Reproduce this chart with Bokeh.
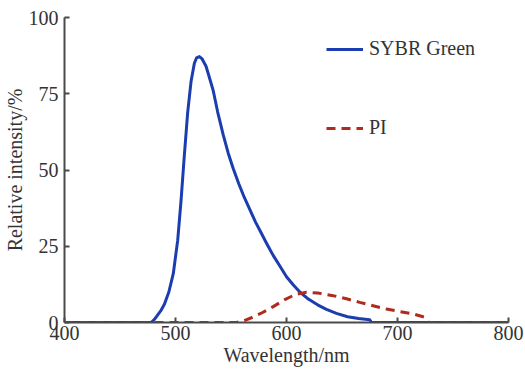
from bokeh.plotting import figure
from bokeh.models import Legend, LegendItem, Range1d, FixedTicker
from bokeh.embed import file_html
from bokeh.resources import INLINE

# SYBR Green emission (wavelength nm, relative intensity %)
sybr_wl = [400, 470, 478, 481, 484, 487, 490, 494, 498, 502, 505, 508, 511, 514, 517, 519, 521.5,
           524, 527.5, 530, 534, 538, 543, 547.5, 552, 557, 562, 567, 572, 577, 582,
           588, 594, 600, 606, 612, 620, 628, 636, 645, 655, 665, 675, 676.5, 800]
sybr_val = [0, 0, 0, 1, 2.5, 4, 6, 10, 16, 27, 40, 55, 69, 79, 85, 86.8, 87.2,
            86.4, 84, 81, 76, 69, 61.5, 55.5, 50.5, 45.5, 41, 37, 33, 29.5, 26,
            22, 18.5, 15, 12.4, 10, 7.6, 5.8, 4.3, 3.0, 1.9, 1.3, 0.9, 0, 0]

# PI emission
pi_wl = [400, 555, 562, 570, 578, 588, 598, 608, 618, 628, 642, 654, 666, 678, 690,
         702, 714, 724, 728, 800]
pi_val = [0, 0, 0.6, 1.8, 3.2, 5.2, 7.4, 9.2, 9.9, 9.7, 8.8, 7.8, 6.6, 5.5, 4.4,
          3.6, 2.8, 1.8, 0, 0]

x_ticks = [400, 500, 600, 700, 800]
y_ticks = [0, 25, 50, 75, 100]

FONT = "Liberation Serif"
AX = "#4a4a4a"

p = figure(width=525, height=369, output_backend="svg", toolbar_location=None,
           x_range=Range1d(400, 800), y_range=Range1d(0, 100),
           min_border_left=64, min_border_right=17, min_border_top=17, min_border_bottom=47)
p.outline_line_color = None
p.grid.visible = False
p.background_fill_color = "white"

r1 = p.line(sybr_wl, sybr_val, line_color="#1b3db0", line_width=3, line_join="round")
r2 = p.line(pi_wl, pi_val, line_color="#b02a1e", line_width=3, line_dash="9 6")

for ax in (p.xaxis[0], p.yaxis[0]):
    ax.axis_line_color = AX
    ax.axis_line_width = 2
    ax.major_tick_line_color = AX
    ax.major_tick_line_width = 2
    ax.major_tick_in = 5
    ax.major_tick_out = 0
    ax.minor_tick_line_color = None
    ax.major_label_text_font = FONT
    ax.major_label_text_font_size = "20px"
    ax.major_label_text_color = "#333333"
    ax.axis_label_text_font = FONT
    ax.axis_label_text_font_size = "20px"
    ax.axis_label_text_font_style = "normal"
    ax.axis_label_text_color = "#333333"

p.xaxis[0].ticker = FixedTicker(ticks=x_ticks)
p.yaxis[0].ticker = FixedTicker(ticks=y_ticks)
p.xaxis[0].axis_label = "Wavelength/nm"
p.yaxis[0].axis_label = "Relative intensity/%"
p.xaxis[0].major_label_standoff = 3
p.xaxis[0].axis_label_standoff = 1
p.yaxis[0].major_label_standoff = 6
p.yaxis[0].axis_label_standoff = 0

legend = Legend(items=[LegendItem(label="SYBR Green", renderers=[r1]),
                       LegendItem(label="PI", renderers=[r2])],
                location=(262, 183))
legend.border_line_color = None
legend.background_fill_alpha = 0
legend.padding = 0
legend.margin = 0
legend.spacing = 56
legend.glyph_width = 37
legend.glyph_height = 20
legend.label_standoff = 6
legend.label_text_font = FONT
legend.label_text_font_size = "20px"
legend.label_text_color = "#333333"
p.add_layout(legend)

open("out.html", "w").write(file_html(p, INLINE))
